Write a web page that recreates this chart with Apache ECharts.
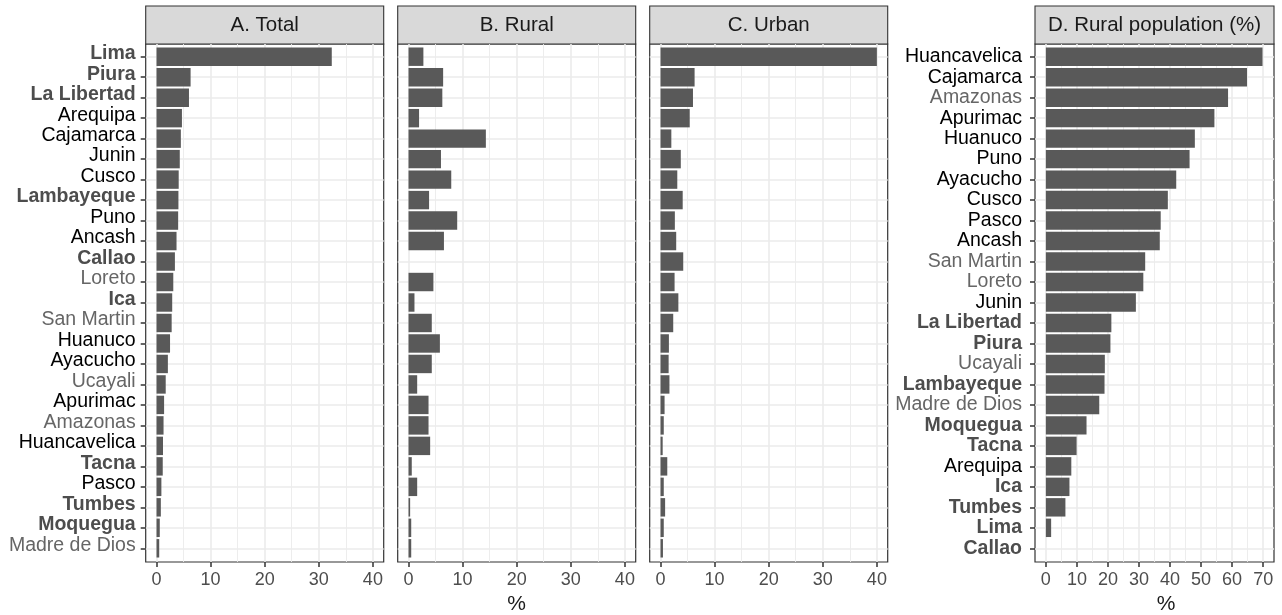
<!DOCTYPE html>
<html>
<head>
<meta charset="utf-8">
<script src="https://cdn.jsdelivr.net/npm/echarts@6/dist/echarts.min.js"></script>
<style>
  html, body { margin: 0; padding: 0; background: #ffffff; }
  #chart { width: 1282px; height: 615px; }
</style>
</head>
<body>
<div id="chart"></div>
<script>
// Regions ordered by their share of the national population (panels A–C)
const regions = ['Lima', 'Piura', 'La Libertad', 'Arequipa', 'Cajamarca', 'Junin', 'Cusco',
  'Lambayeque', 'Puno', 'Ancash', 'Callao', 'Loreto', 'Ica', 'San Martin', 'Huanuco',
  'Ayacucho', 'Ucayali', 'Apurimac', 'Amazonas', 'Huancavelica', 'Tacna', 'Pasco',
  'Tumbes', 'Moquegua', 'Madre de Dios'];
// Share (%) of the total, rural and urban population living in each region
const totalShare = [32.4, 6.3, 6.0, 4.7, 4.5, 4.3, 4.1, 4.05, 4.0, 3.7, 3.4, 3.1, 2.9, 2.8,
  2.5, 2.1, 1.7, 1.4, 1.3, 1.2, 1.15, 0.9, 0.8, 0.6, 0.5];
const ruralShare = [2.75, 6.4, 6.25, 1.95, 14.3, 6.0, 7.9, 3.8, 9.0, 6.55, 0, 4.6, 1.1, 4.3,
  5.8, 4.3, 1.6, 3.7, 3.7, 4.0, 0.6, 1.6, 0.3, 0.5, 0.5];
const urbanShare = [40.0, 6.3, 6.0, 5.4, 2.0, 3.75, 3.1, 4.1, 2.65, 2.9, 4.2, 2.6, 3.3, 2.35,
  1.55, 1.5, 1.65, 0.75, 0.6, 0.4, 1.25, 0.6, 0.85, 0.6, 0.45];

// Regions ordered by the rural share of their own population (panel D)
const ruralRegions = ['Huancavelica', 'Cajamarca', 'Amazonas', 'Apurimac', 'Huanuco', 'Puno',
  'Ayacucho', 'Cusco', 'Pasco', 'Ancash', 'San Martin', 'Loreto', 'Junin', 'La Libertad',
  'Piura', 'Ucayali', 'Lambayeque', 'Madre de Dios', 'Moquegua', 'Tacna', 'Arequipa', 'Ica',
  'Tumbes', 'Lima', 'Callao'];
const ruralPct = [69.8, 64.8, 58.7, 54.3, 48.0, 46.3, 42.0, 39.3, 37.0, 36.7, 32.0, 31.4, 29.0,
  21.1, 20.8, 19.0, 18.9, 17.2, 13.1, 9.9, 8.2, 7.6, 6.3, 1.7, 0];

// Natural regions: coast labels in bold grey, jungle in light grey, highlands in black
const coastRegions = ['Lima', 'Piura', 'La Libertad', 'Lambayeque', 'Callao', 'Ica', 'Tacna',
  'Tumbes', 'Moquegua'];
const jungleRegions = ['Loreto', 'San Martin', 'Ucayali', 'Amazonas', 'Madre de Dios'];

// Axis ticks
const shareTicks = [0, 10, 20, 30, 40];
const shareMinor = [5, 15, 25, 35];
const pctTicks = [0, 10, 20, 30, 40, 50, 60, 70];
const pctMinor = [5, 15, 25, 35, 45, 55, 65];

const panelTitles = ['A. Total', 'B. Rural', 'C. Urban', 'D. Rural population (%)'];
const axisTitle = '%';

// ---- layout ----
const FONT = '"Liberation Sans", Arial, Helvetica, sans-serif';
const STRIP_TOP = 6, PANEL_TOP = 44, PANEL_H = 518;
const ROW_TOP = 56.7, ROW_H = 491.6;          // first to last category centre
const GRID_MAJOR = { color: '#EBEBEB', width: 1.6 };
const GRID_MINOR = { color: '#EBEBEB', width: 0.9 };
const TICK_STYLE = { color: '#333333', width: 1.5 };

const panels = [
  { left: 145.7, width: 238, cats: regions, values: totalShare, min: -2, max: 42,
    ticks: shareTicks, minor: shareMinor, labels: true, labelMargin: 10, labelPad: [0, 0, 6, 0] },
  { left: 397.7, width: 238, cats: regions, values: ruralShare, min: -2, max: 42,
    ticks: shareTicks, minor: shareMinor, labels: false },
  { left: 649.7, width: 238, cats: regions, values: urbanShare, min: -2, max: 42,
    ticks: shareTicks, minor: shareMinor, labels: false },
  { left: 1035, width: 239, cats: ruralRegions, values: ruralPct, min: -3.5, max: 73.5,
    ticks: pctTicks, minor: pctMinor, labels: true, labelMargin: 13, labelPad: [0, 0, 0, 0] }
];

const LABEL_SIZE = 19.5;
const labelRich = {
  coast:  { color: '#4D4D4D', fontWeight: 'bold', fontSize: LABEL_SIZE, fontFamily: FONT },
  sierra: { color: '#000000', fontSize: LABEL_SIZE, fontFamily: FONT },
  jungle: { color: '#666666', fontSize: LABEL_SIZE, fontFamily: FONT }
};
function regionLabel(name) {
  const kind = coastRegions.includes(name) ? 'coast'
    : jungleRegions.includes(name) ? 'jungle' : 'sierra';
  return '{' + kind + '|' + name + '}';
}

const grid = [], xAxis = [], yAxis = [], series = [], graphic = [];

panels.forEach((p, i) => {
  // frame grid: border, background and vertical grid lines
  grid.push({ left: p.left, top: PANEL_TOP, width: p.width, height: PANEL_H,
    show: true, backgroundColor: '#ffffff', borderColor: '#333333', borderWidth: 1.2,
    containLabel: false });
  // data grid: spans first to last category centre
  grid.push({ left: p.left, top: ROW_TOP, width: p.width, height: ROW_H, containLabel: false });

  const fg = 2 * i, dg = 2 * i + 1;
  xAxis.push({
    type: 'value', gridIndex: fg, position: 'bottom', min: p.min, max: p.max,
    axisLine: { show: false, onZero: false },
    axisTick: { show: true, length: 5, customValues: p.ticks, lineStyle: TICK_STYLE },
    axisLabel: { show: true, customValues: p.ticks, margin: 9, color: '#4D4D4D',
      fontSize: 18, fontFamily: FONT },
    splitLine: { show: true, lineStyle: GRID_MAJOR }
  });
  xAxis.push({
    type: 'value', gridIndex: fg, position: 'top', min: p.min, max: p.max,
    axisLine: { show: false, onZero: false }, axisLabel: { show: false },
    axisTick: { show: false, customValues: p.minor },
    splitLine: { show: true, lineStyle: GRID_MINOR }
  });
  xAxis.push({ type: 'value', gridIndex: dg, min: p.min, max: p.max, show: false });

  yAxis.push({ type: 'value', gridIndex: fg, min: 0, max: 1, show: false });
  yAxis.push({
    type: 'category', gridIndex: dg, data: p.cats, inverse: true, boundaryGap: false,
    axisLine: { show: false, onZero: false },
    axisTick: { show: p.labels, length: 5, interval: 0, lineStyle: TICK_STYLE },
    axisLabel: { show: p.labels, interval: 0, margin: p.labelMargin || 8,
      padding: p.labelPad || 0, formatter: regionLabel, rich: labelRich },
    splitLine: { show: true, interval: 0, lineStyle: GRID_MAJOR }
  });

  series.push({
    type: 'bar', xAxisIndex: 3 * i + 2, yAxisIndex: dg, data: p.values,
    barWidth: '90%', clip: false, silent: true, z: 3,
    itemStyle: { color: '#595959' }
  });

  // facet strip
  graphic.push({
    type: 'group', z: 20,
    children: [
      { type: 'rect', shape: { x: p.left, y: STRIP_TOP, width: p.width, height: PANEL_TOP - STRIP_TOP },
        style: { fill: '#D9D9D9', stroke: '#333333', lineWidth: 1.1 } },
      { type: 'text', x: p.left + p.width / 2, y: (STRIP_TOP + PANEL_TOP) / 2 + 0.5,
        style: { text: panelTitles[i], fill: '#1A1A1A', fontSize: 20.5, fontFamily: FONT,
          align: 'center', verticalAlign: 'middle' } }
    ]
  });
});

// axis titles
const abcCentre = (panels[0].left + panels[2].left + panels[2].width) / 2;
graphic.push({ type: 'text', x: abcCentre, y: 604, z: 20,
  style: { text: axisTitle, fill: '#1A1A1A', fontSize: 21, fontFamily: FONT,
    align: 'center', verticalAlign: 'middle' } });
graphic.push({ type: 'text', x: 1166, y: 604, z: 20,
  style: { text: axisTitle, fill: '#1A1A1A', fontSize: 21, fontFamily: FONT,
    align: 'center', verticalAlign: 'middle' } });

const chart = echarts.init(document.getElementById('chart'), null, { renderer: 'canvas' });
chart.setOption({
  animation: false,
  backgroundColor: '#ffffff',
  textStyle: { fontFamily: FONT },
  grid, xAxis, yAxis, series, graphic
});
</script>
</body>
</html>
